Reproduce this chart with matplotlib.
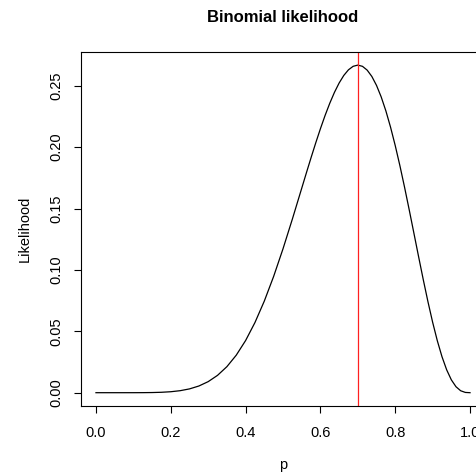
import matplotlib
matplotlib.use("Agg")
import matplotlib.pyplot as plt

# likelihood (finer steps where it bends most)
p_vals = [0.000, 0.025, 0.050, 0.075, 0.100, 0.125, 0.150, 0.175, 0.200, 0.225,
          0.250, 0.275, 0.300, 0.325, 0.350, 0.375, 0.400, 0.425, 0.450, 0.475,
          0.500, 0.525, 0.550, 0.5625, 0.575, 0.5875, 0.600, 0.6125, 0.625, 0.6375,
          0.650, 0.6625, 0.675, 0.6875, 0.700, 0.7125, 0.725, 0.7375, 0.750, 0.7625,
          0.775, 0.7875, 0.800, 0.8125, 0.825, 0.8375, 0.850, 0.8625, 0.875, 0.8875,
          0.900, 0.9125, 0.925, 0.9375, 0.950, 0.9625, 0.975, 0.9875, 1.000]
lik_vals = [0.0, 0.0, 0.0000001, 0.0000013, 0.0000087, 0.0000383, 0.0001259, 0.0003387,
            0.0007864, 0.0016307, 0.0030899, 0.005439, 0.009002, 0.014134, 0.021203,
            0.030552, 0.042467, 0.057136, 0.074603, 0.094736, 0.117188, 0.14138,
            0.16648, 0.17905, 0.19143, 0.20347, 0.21499, 0.22581, 0.23574, 0.24461,
            0.25222, 0.25841, 0.26300, 0.26585, 0.26683, 0.26582, 0.26274, 0.25758,
            0.25028, 0.24091, 0.22954, 0.21628, 0.20133, 0.18491, 0.16729, 0.14881,
            0.12983, 0.11077, 0.092039, 0.074099, 0.057396, 0.042348, 0.029333,
            0.018648, 0.010475, 0.0048426, 0.001571, 0.0002146, 0.0]
p_hat = 0.7

x_ticks = [0.0, 0.2, 0.4, 0.6, 0.8, 1.0]
x_labels = ["0.0", "0.2", "0.4", "0.6", "0.8", "1.0"]
y_ticks = [0.00, 0.05, 0.10, 0.15, 0.20, 0.25]
y_labels = ["0.00", "0.05", "0.10", "0.15", "0.20", "0.25"]

plt.rcParams['font.family'] = ['Liberation Sans', 'DejaVu Sans']

W, H = 477, 472
fig = plt.figure(figsize=(W / 100, H / 100), dpi=100)
ax = fig.add_axes([81 / W, (H - 405.8) / H, 404 / W, 353.8 / H])

ax.plot(p_vals, lik_vals, color='black', lw=0.9)
ax.axvline(p_hat, color='#ff2020', lw=0.9)

ymax = max(lik_vals)
ax.set_xlim(-0.04, 1.04)
ax.set_ylim(-0.04 * ymax, 1.04 * ymax)

ax.set_xticks(x_ticks)
ax.set_xticklabels(x_labels, fontsize=10.5)
ax.set_yticks(y_ticks)
ax.set_yticklabels(y_labels, fontsize=10.5, rotation=90, va='center')
ax.tick_params(axis='both', length=5, width=0.8, color='black')
ax.tick_params(axis='x', pad=9.5)
ax.tick_params(axis='y', pad=8)
for s in ax.spines.values():
    s.set_linewidth(0.8)
    s.set_color('black')

fig.text(283 / W, 1 - 18 / H, "Binomial likelihood", ha='center', va='center',
         fontsize=12, fontweight='bold')
fig.text(283 / W, 1 - 465 / H, "p", ha='center', va='center', fontsize=10.5)
fig.text(25 / W, 1 - 229 / H, "Likelihood", ha='center', va='center',
         fontsize=10.5, rotation=90)

fig.savefig("out.png", dpi=100)
